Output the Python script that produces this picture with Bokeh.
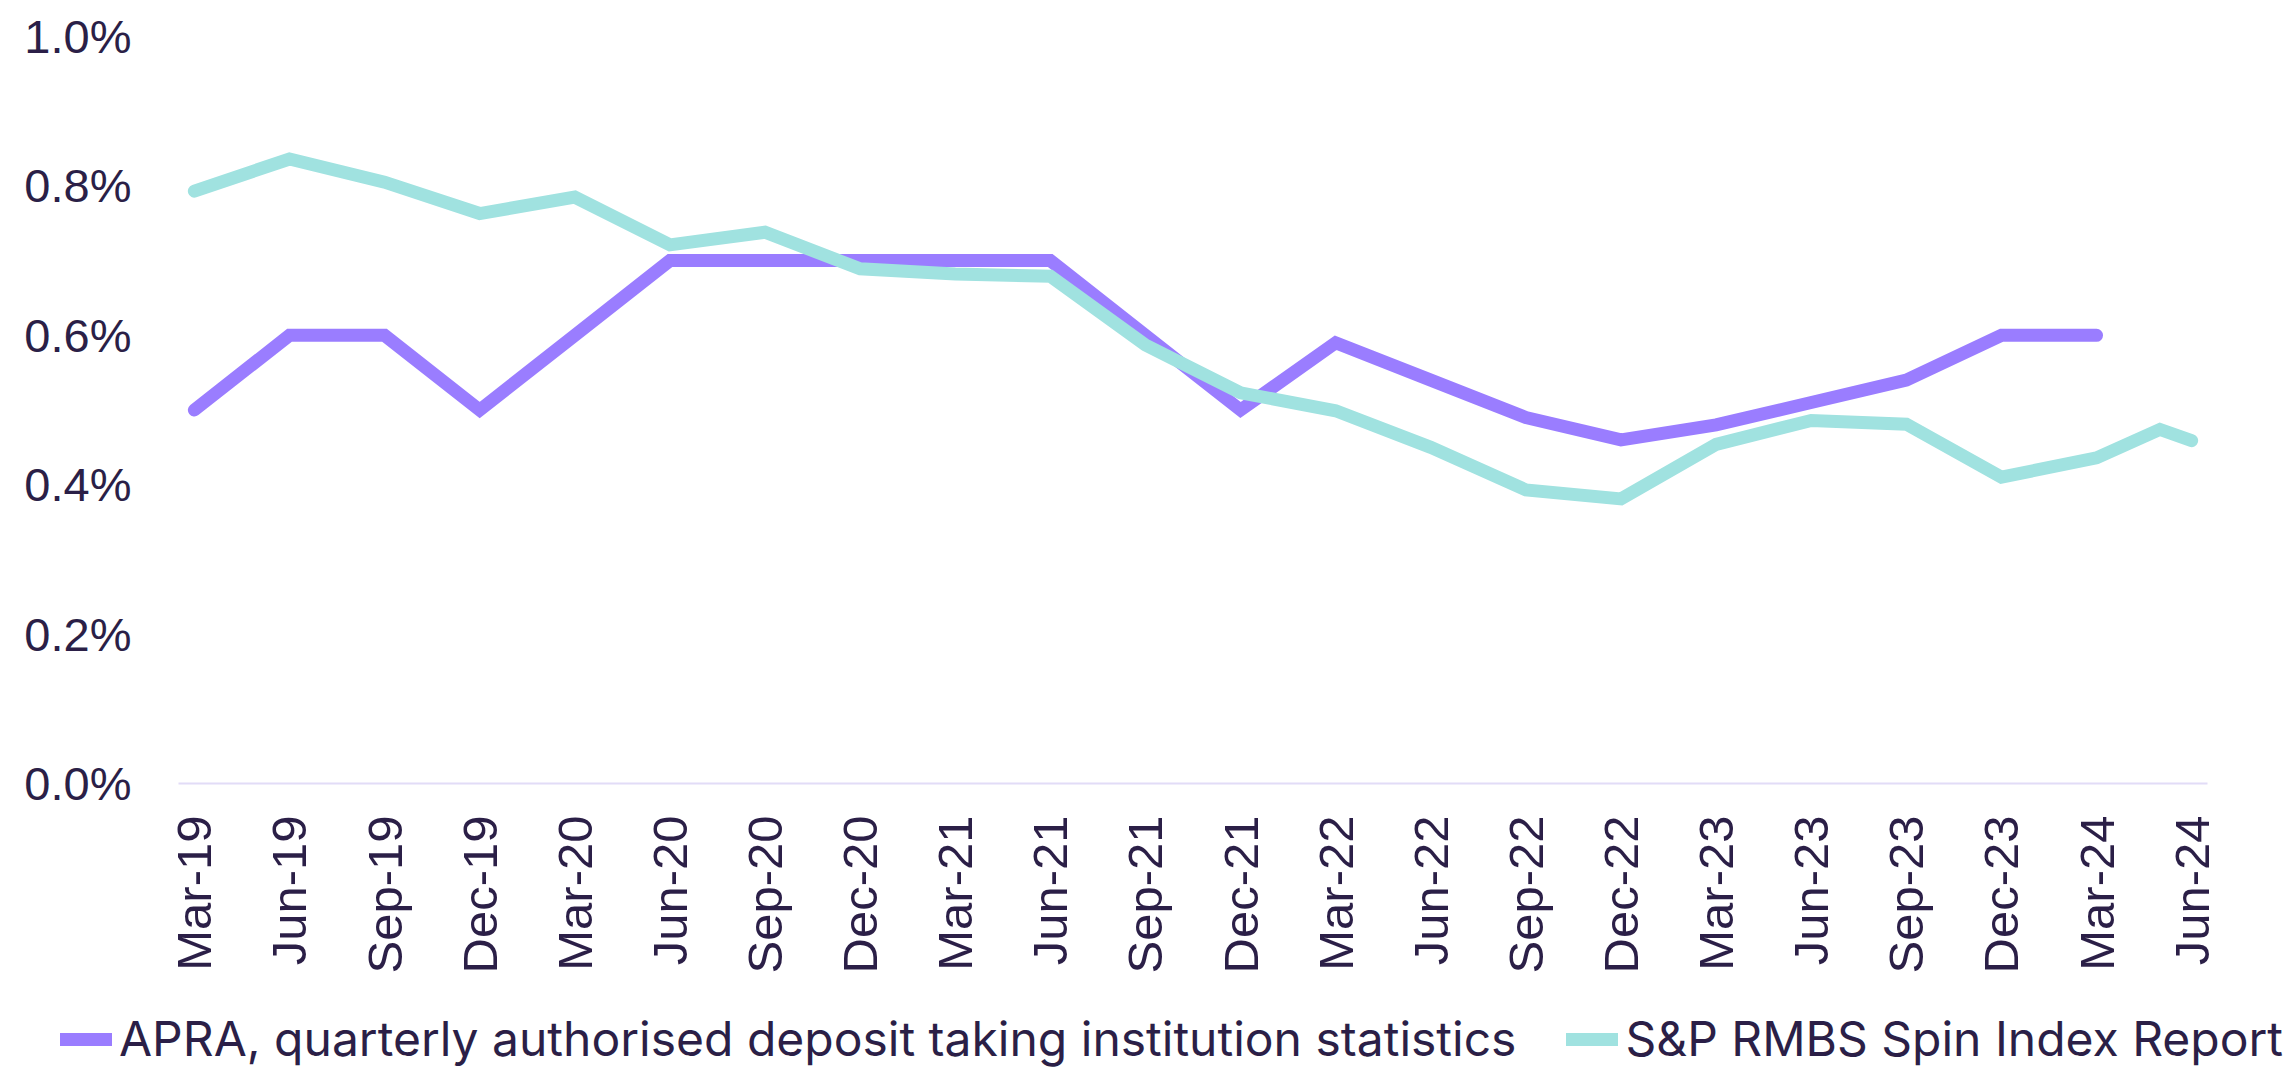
import math
from bokeh.plotting import figure
from bokeh.models import FixedTicker, PrintfTickFormatter, Legend, LegendItem, Range1d
from bokeh.embed import file_html
from bokeh.resources import INLINE

# Tick labels (quarters), month offsets from Mar-19
quarters = ["Mar-19", "Jun-19", "Sep-19", "Dec-19", "Mar-20", "Jun-20", "Sep-20", "Dec-20",
            "Mar-21", "Jun-21", "Sep-21", "Dec-21", "Mar-22", "Jun-22", "Sep-22", "Dec-22",
            "Mar-23", "Jun-23", "Sep-23", "Dec-23", "Mar-24", "Jun-24"]
quarter_months = [0, 3, 6, 9, 12, 15, 18, 21, 24, 27, 30, 33, 36, 39, 42, 45, 48, 51, 54, 57, 60, 63]
y_ticks = [0, 0.2, 0.4, 0.6, 0.8, 1.0]

# APRA series (percent)
apra_months = [0, 3, 6, 9, 12, 15, 18, 21, 24, 27, 30, 33, 36, 39, 42, 45, 48, 51, 54, 57, 60]
apra_values = [0.50, 0.60, 0.60, 0.50, 0.60, 0.70, 0.70, 0.70, 0.70, 0.70, 0.60, 0.50,
               0.59, 0.54, 0.49, 0.46, 0.48, 0.51, 0.54, 0.60, 0.60]

# S&P RMBS Spin Index series (percent)
sp_months = [0, 3, 6, 9, 12, 15, 18, 21, 24, 27, 30, 33, 36, 39, 42, 45, 48, 51, 54, 57, 60, 62, 63]
sp_values = [0.793, 0.836, 0.805, 0.763, 0.785, 0.721, 0.738, 0.689, 0.682, 0.679, 0.587, 0.523,
             0.499, 0.450, 0.393, 0.381, 0.454, 0.486, 0.481, 0.410, 0.436, 0.474, 0.459]

series_names = ["APRA, quarterly authorised deposit taking institution statistics",
                "S&P RMBS Spin Index Report"]

PURPLE = "#9A7DFF"
TEAL = "#A0E2E0"
TEXT = "#2B1F47"
AXIS = "#E2DCF7"
FONT = "Liberation Sans"
LEGEND_FONT = "Inter"

W, H = 2290, 1076
# pixel layout of the plotting area (chart box) inside the page
left_px, right_px, top_px, bottom_px = 178, 2207, 36, 783
x0, x1 = -0.5, 63.5
y0, y1 = 0.0, 1.0
xs = (right_px - left_px) / (x1 - x0)
ys = (bottom_px - top_px) / (y1 - y0)
x_range = Range1d(x0 - left_px / xs, x1 + (W - right_px) / xs)
y_range = Range1d(y0 - (H - bottom_px) / ys, y1 + top_px / ys)

p = figure(width=W, height=H, output_backend="svg", toolbar_location=None,
           x_range=x_range, y_range=y_range,
           min_border_left=0, min_border_right=0, min_border_top=0, min_border_bottom=0)

r1 = p.line(apra_months, apra_values, line_width=13, line_color=PURPLE,
            line_cap="round", line_join="miter")
r2 = p.line(sp_months, sp_values, line_width=13, line_color=TEAL,
            line_cap="round", line_join="miter")

p.xgrid.visible = False
p.ygrid.visible = False
p.outline_line_color = None

xa = p.xaxis[0]
xa.fixed_location = 0
xa.bounds = (x0, x1)
xa.ticker = FixedTicker(ticks=quarter_months)
xa.major_label_overrides = {m: q for m, q in zip(quarter_months, quarters)}
xa.major_label_orientation = math.pi / 2
xa.axis_line_color = AXIS
xa.axis_line_width = 2
xa.major_tick_line_color = None
xa.minor_tick_line_color = None
xa.major_tick_out = 0
xa.major_tick_in = 0
xa.major_label_standoff = 32
xa.major_label_text_font = FONT
xa.major_label_text_font_size = "49px"
xa.major_label_text_color = TEXT

ya = p.yaxis[0]
ya.fixed_location = x0
ya.bounds = (y0, y1)
ya.ticker = FixedTicker(ticks=y_ticks)
ya.formatter = PrintfTickFormatter(format="%.1f%%")
ya.axis_line_color = None
ya.major_tick_line_color = None
ya.minor_tick_line_color = None
ya.major_tick_out = 0
ya.major_tick_in = 0
ya.major_label_standoff = 47
ya.major_label_text_font = FONT
ya.major_label_text_font_size = "47px"
ya.major_label_text_color = TEXT

legend = Legend(items=[LegendItem(label=series_names[0], renderers=[r1]),
                       LegendItem(label=series_names[1], renderers=[r2])],
                orientation="horizontal", location=(60, 8),
                padding=0, margin=0, spacing=50, label_standoff=7,
                glyph_width=52, glyph_height=48, label_height=48,
                label_text_font=LEGEND_FONT, label_text_font_size="48px", label_text_color=TEXT,
                border_line_color=None, background_fill_alpha=0)
p.add_layout(legend, "center")

open("out.html", "w").write(file_html(p, INLINE))
